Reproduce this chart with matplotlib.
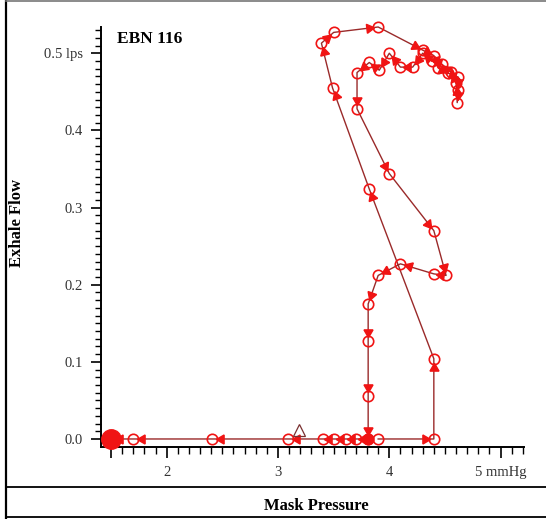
import numpy as np
import matplotlib
matplotlib.use("Agg")
import matplotlib.pyplot as plt
from matplotlib.lines import Line2D

# ---- data (Mask Pressure mmHg, Exhale Flow lps) in path order ----
pressure = [3.90, 4.40, 4.40, 3.82, 3.49, 3.39, 3.50, 3.90, 4.30, 4.40, 4.44, 4.53,
            4.62, 4.62, 4.61, 4.60, 4.55, 4.47, 4.38, 4.30, 4.21, 4.10, 4.00, 3.91,
            3.82, 3.71, 3.71, 4.00, 4.40, 4.51, 4.40, 4.10, 3.90, 3.81, 3.81, 3.81,
            3.81, 3.70, 3.61, 3.50, 3.40, 3.09, 2.41, 1.70, 1.50]
flow = [0.000, 0.000, 0.104, 0.324, 0.455, 0.513, 0.527, 0.534, 0.504, 0.497, 0.481, 0.474,
        0.469, 0.452, 0.436, 0.462, 0.476, 0.486, 0.490, 0.500, 0.482, 0.482, 0.500, 0.478,
        0.488, 0.475, 0.428, 0.344, 0.270, 0.212, 0.214, 0.227, 0.212, 0.175, 0.127, 0.056,
        0.000, 0.000, 0.000, 0.000, 0.000, 0.000, 0.000, 0.000, 0.000]
trigger_pressure = [3.81]
trigger_flow = [0.000]
event_pressure = [3.19]
event_flow = [0.012]
rest_pressure = [1.50]
rest_flow = [0.000]

y_major = [0.0, 0.1, 0.2, 0.3, 0.4, 0.5]
y_labels = ["0.0", "0.1", "0.2", "0.3", "0.4", "0.5 lps"]
x_major = [1.5, 2, 3, 4, 5]
x_labels = ["", "2", "3", "4", "5 mmHg"]

RED = "#f01414"
LINE = "#9a2a2a"
SERIF = "Liberation Serif"

W, H, DPI = 546, 519, 100
fig = plt.figure(figsize=(W / DPI, H / DPI), dpi=DPI)
ax = fig.add_axes([101 / W, 72 / H, 423 / W, 420 / H])
ax.set_xlim(1.41, 5.21)
ax.set_ylim(-0.0104, 0.534)

for s in ["top", "right"]:
    ax.spines[s].set_visible(False)
for s in ["left", "bottom"]:
    ax.spines[s].set_linewidth(1.4)

ax.set_yticks(y_major)
ax.set_yticklabels(y_labels)
ax.set_yticks(np.round(np.arange(0, 0.535, 0.01), 2), minor=True)
ax.set_xticks(x_major)
ax.set_xticklabels(x_labels)
ax.set_xticks(np.round(np.arange(1.5, 5.21, 0.1), 2), minor=True)
ax.tick_params(axis="y", which="major", length=7, width=1.2, pad=6)
ax.tick_params(axis="y", which="minor", length=4.3, width=1.0)
ax.tick_params(axis="x", which="major", length=8, width=1.2, pad=6)
ax.tick_params(axis="x", which="minor", length=5, width=1.0)
for lab in ax.get_xticklabels() + ax.get_yticklabels():
    lab.set_fontfamily(SERIF)
    lab.set_fontsize(10.5)
    lab.set_color("#333333")

# path line with open circles
ax.plot(pressure, flow, color=LINE, lw=1.0, zorder=2, clip_on=False)
ax.plot(pressure, flow, ls="none", marker="o", ms=7.5, mfc="none", mec=RED, mew=1.2,
        zorder=3, clip_on=False)

# direction arrows near segment ends
fig.canvas.draw()
tr = ax.transData
pts = tr.transform(np.column_stack([pressure, flow]))
for i in range(len(pts) - 1):
    p0, p1 = pts[i], pts[i + 1]
    d = p1 - p0
    L = np.hypot(*d)
    if L < 1e-6:
        continue
    u = d / L
    back = min(9.0, 0.6 * L)
    pos = p1 - u * back
    ang = np.degrees(np.arctan2(u[1], u[0])) - 90
    dpos = tr.inverted().transform(pos)
    ax.plot([dpos[0]], [dpos[1]], ls="none", marker=(3, 0, ang), ms=7.5,
            color=RED, mec=RED, zorder=4, clip_on=False)

ax.plot(trigger_pressure, trigger_flow, "o", ms=7.5, color=RED, zorder=5)
ax.plot(event_pressure, event_flow, ls="none", marker="^", ms=8, mfc="none",
        mec="#7a3030", mew=0.9, zorder=5)
ax.plot(rest_pressure, rest_flow, "o", ms=14, color=RED, zorder=6, clip_on=False)

# texts
fig.text(117 / W, (H - 43) / H, "EBN 116", fontfamily=SERIF, fontweight="bold",
         fontsize=12.5, va="baseline", ha="left")
fig.text(17 / W, (H - 223) / H, "Exhale Flow", fontfamily=SERIF, fontweight="bold",
         fontsize=12, rotation=90, ha="center", va="center")
fig.text(316 / W, 13 / H, "Mask Pressure", fontfamily=SERIF, fontweight="bold",
         fontsize=12, ha="center", va="center")

# frame lines
fig.add_artist(Line2D([6 / W, 6 / W], [0, 1], color="black", lw=1.6))
fig.add_artist(Line2D([6 / W, 1], [1 - 1 / H, 1 - 1 / H], color="#777777", lw=1.2))
fig.add_artist(Line2D([6 / W, 1], [32 / H, 32 / H], color="black", lw=1.3))
fig.add_artist(Line2D([6 / W, 1], [2 / H, 2 / H], color="black", lw=1.3))

fig.savefig("out.png", dpi=DPI)
